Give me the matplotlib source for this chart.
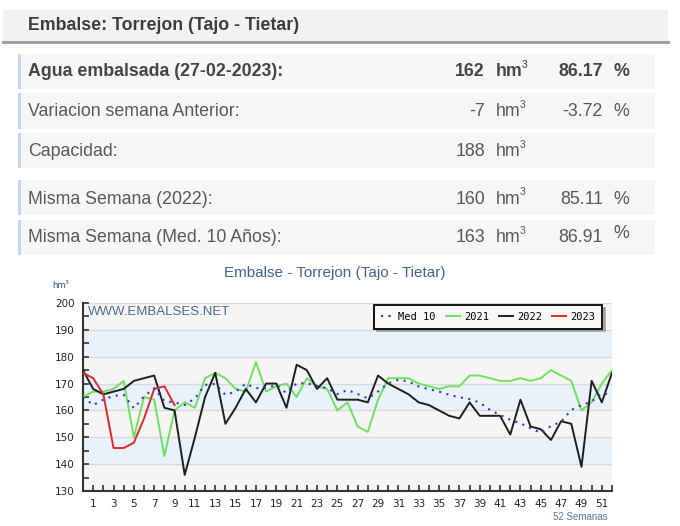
import matplotlib
matplotlib.use("Agg")
import matplotlib.pyplot as plt
from matplotlib.patches import Rectangle
import numpy as np

# datos de la tabla
titulo = "Embalse: Torrejon (Tajo - Tietar)"
filas = ["Agua embalsada (27-02-2023):", "Variacion semana Anterior:", "Capacidad:",
         "Misma Semana (2022):", "Misma Semana (Med. 10 Años):"]
valores_hm3 = ["162", "-7", "188", "160", "163"]
valores_pct = ["86.17", "-3.72", "", "85.11", "86.91"]

# datos del grafico (semanas 0..52)
semanas = np.arange(53)
med10 = [165, 162, 164, 165.4, 165.8, 160.8, 165.2, 168.3, 163.5, 163,
         162, 164.5, 169.5, 169.9, 165.8, 167, 169.9, 168.3, 168.3, 169.5,
         166.4, 170.1, 170.1, 169.1, 168.3, 166.1, 167.6, 166.1, 164.5, 167,
         170.1, 171.4, 170.8, 168.9, 167.9, 167, 165.8, 164.9, 164.2, 162.9,
         160.2, 158.3, 156.5, 155.2, 153.4, 151.7, 154.2, 155.8, 160.2, 162,
         163.3, 166.4, 165.8]
y2021 = [165, 167, 167, 168, 171, 150, 165, 164, 143, 160,
         163, 161, 172, 174, 172, 168, 167, 178, 167, 169,
         170, 165, 172, 169, 168, 160, 163, 154, 152, 164,
         172, 172, 172, 170, 169, 168, 169, 169, 173, 173,
         172, 171, 171, 172, 171, 172, 175, 173, 171, 160,
         163, 170, 175]
y2022 = [175, 168, 166, 167, 168, 171, 172, 173, 161, 160,
         136, 150, 165, 174, 155, 161, 168, 163, 170, 170,
         161, 177, 175, 168, 172, 164, 164, 164, 163, 173,
         170, 168, 166, 163, 162, 160, 158, 157, 163, 158,
         158, 158, 151, 164, 154, 153, 149, 156, 155, 139,
         171, 163, 174]
y2023 = [174, 172, 166, 146, 146, 148, 157, 168, 169, 162]

xticks_lab = list(range(1, 52, 2))

fig = plt.figure(figsize=(6.8, 5.26), dpi=100)

# fondo en coordenadas de pixel
bg = fig.add_axes([0, 0, 1, 1], zorder=0)
bg.set_xlim(0, 680)
bg.set_ylim(526, 0)
bg.axis("off")

bg.add_patch(Rectangle((3, 10), 665, 32, color="#f2f2f2", lw=0))
bg.plot([3, 668], [42, 42], color="#9a9a9a", lw=2)
bg.text(28, 26, titulo, fontsize=12.8, fontweight="bold", color="#3c3c3c",
        va="center", family="Liberation Sans")

cajas = [(54, 89), (93, 129), (133, 168), (180, 215), (220, 255)]
centros = [72, 112, 152, 199, 238]
for i in range(len(filas)):
    y0, y1 = cajas[i]
    bg.add_patch(Rectangle((18, y0), 637, y1 - y0, color="#f6f6f6", lw=0))
    bg.add_patch(Rectangle((18, y0), 3, y1 - y0, color="#c6d6ee", lw=0))
    peso = "bold" if i == 0 else "normal"
    col = "#444444" if i == 0 else "#585858"
    yc = centros[i]
    bg.text(28, yc, filas[i], fontsize=12.8, fontweight=peso, color=col,
            va="center", family="Liberation Sans")
    bg.text(485, yc, valores_hm3[i], fontsize=12.8, fontweight=peso, color=col,
            va="center", ha="right", family="Liberation Sans")
    bg.text(496, yc, "hm", fontsize=12.8, fontweight=peso, color=col,
            va="center", family="Liberation Sans")
    bg.text(522 if i == 0 else 520, yc - 7, "3", fontsize=7.5, color=col,
            va="center", family="Liberation Sans")
    if valores_pct[i]:
        bg.text(603, yc, valores_pct[i], fontsize=12.8, fontweight=peso, color=col,
                va="center", ha="right", family="Liberation Sans")
        dy = -5 if i == 4 else 0
        bg.text(613, yc + dy, "%", fontsize=12.8, fontweight=peso, color=col,
                va="center", family="Liberation Sans")

# titulo del grafico
bg.text(335, 273, "Embalse - Torrejon (Tajo - Tietar)", fontsize=11,
        color="#3f6290", ha="center", va="center", family="Liberation Sans")
bg.text(52, 286, "hm", fontsize=6, color="#2f4a6a", va="center")
bg.text(64.5, 282, "3", fontsize=4.5, color="#2f4a6a", va="center")
bg.text(608, 517, "52 Semanas", fontsize=7, color="#4f78a8", ha="right",
        va="center", family="Liberation Sans")

# grafico
ax = fig.add_axes([83 / 680, 35 / 526, 529 / 680, 188 / 526], zorder=2)
ax.set_xlim(0, 52)
ax.set_ylim(130, 200)

for k, y in enumerate(range(130, 200, 10)):
    c = "#e9f1fa" if k % 2 == 1 else "#f5f5f5"
    ax.axhspan(y, y + 10, color=c, lw=0, zorder=0)
for y in range(140, 201, 10):
    ax.axhline(y, color="#d8d8d8", lw=1, zorder=1)

ax.plot(semanas, y2021, color="#6fe05a", lw=1.4, zorder=3, label="2021")
ax.plot(semanas, y2022, color="#1e1e1e", lw=1.4, zorder=4, label="2022")
ax.plot(semanas[:len(y2023)], y2023, color="#e02828", lw=1.4, zorder=5, label="2023")
ax.plot(semanas, med10, color="#3535c8", lw=1.5, ls=(0, (1, 2.6)), zorder=6, label="Med 10")

ax.text(0.01, 0.95, "WWW.EMBALSES.NET", transform=ax.transAxes, fontsize=9.5,
        color="#4a6b8e", va="center", family="Liberation Sans", zorder=7)

for s in ["top", "right"]:
    ax.spines[s].set_visible(False)
for s in ["left", "bottom"]:
    ax.spines[s].set_color("#333333")
    ax.spines[s].set_linewidth(1.5)

ax.set_yticks(range(130, 201, 10))
ax.set_yticks(range(135, 200, 10), minor=True)
ax.set_xticks(xticks_lab)
ax.set_xticklabels([str(v) for v in xticks_lab])
ax.set_xticks(range(0, 53), minor=True)
ax.tick_params(which="both", direction="in", length=4, width=1.2, color="#333333")
ax.tick_params(axis="y", labelsize=7.5, pad=6, labelcolor="#222222")
ax.tick_params(axis="x", labelsize=7.5, pad=6, labelcolor="#222222")

h, l = ax.get_legend_handles_labels()
orden = [3, 0, 1, 2]
leg = ax.legend([h[i] for i in orden], [l[i] for i in orden], ncol=4,
                loc="upper right", bbox_to_anchor=(0.981, 0.989),
                borderaxespad=0, fancybox=False,
                shadow={"color": "#9a9a9a", "alpha": 0.8},
                edgecolor="#111111", facecolor="#f8f8f8", framealpha=1,
                prop={"family": "DejaVu Sans Mono", "size": 7.5},
                handlelength=1.3, handletextpad=0.4, columnspacing=1.0,
                borderpad=0.65)
leg.get_frame().set_linewidth(1.4)
leg.set_zorder(10)

fig.savefig("out.png", dpi=100)
